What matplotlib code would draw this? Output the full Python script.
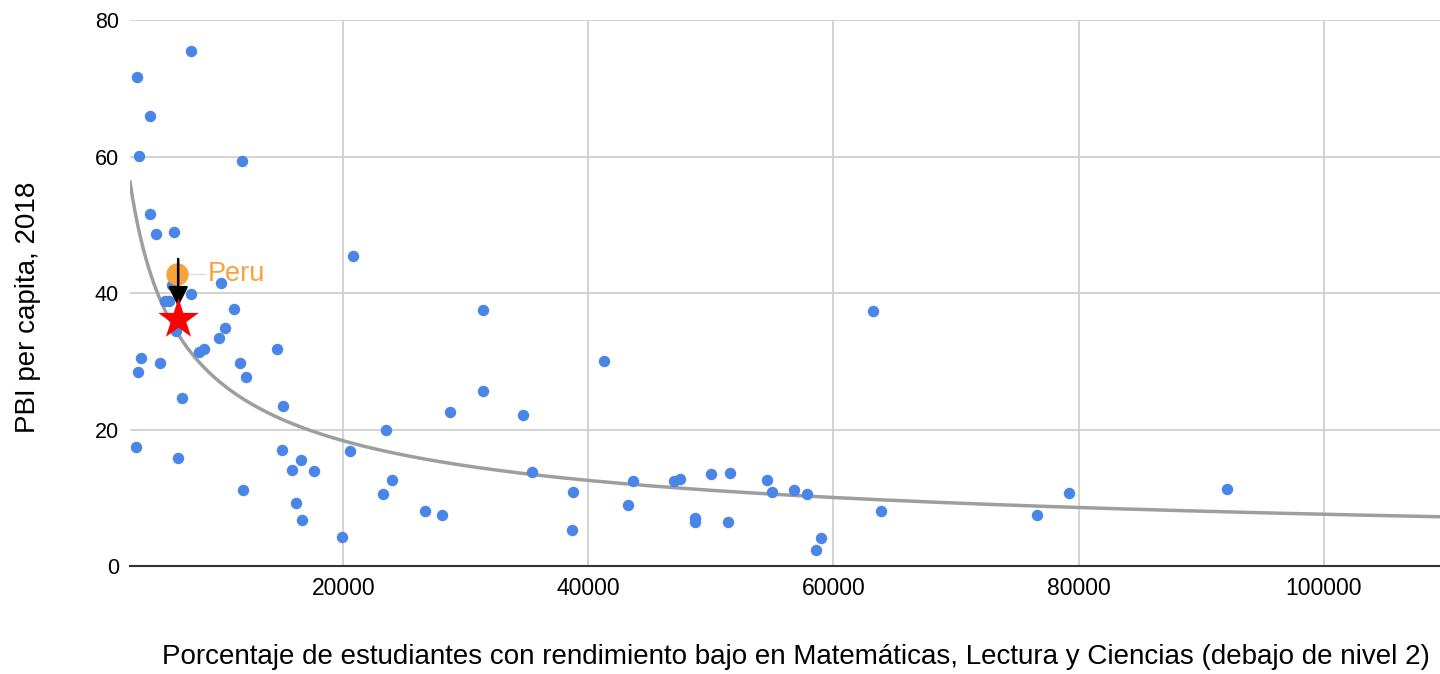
import numpy as np
import matplotlib
matplotlib.use("Agg")
import matplotlib.pyplot as plt

# countries: students below level 2 (x) vs PBI per capita (y)
x_vals = [7567, 3159, 4220, 3322, 11698, 4220, 4710, 6179, 6008, 10008,
          7567, 20760, 5416, 5796, 11102, 6343, 10367, 9877, 8188, 8653,
          14580, 3455, 3241, 5007, 11535, 12057, 6857, 15047, 3077, 6530,
          14993, 16571, 15837, 17578, 11781, 16163, 16625, 19918, 20541,
          31372, 41250, 31428, 28700, 34692, 23510, 35372, 24000, 23265,
          26640, 28027, 38718, 38637, 43643, 43262, 63206, 47020, 47455,
          50014, 51535, 48733, 48733, 51399, 54580, 54966, 56816, 57877,
          59020, 58612, 63859, 76647, 79213, 92099]
y_vals = [75.4, 71.6, 65.9, 60.1, 59.4, 51.6, 48.6, 49.0, 41.2, 41.4,
          39.9, 45.4, 38.9, 38.8, 37.6, 34.5, 34.9, 33.4, 31.4, 31.8,
          31.8, 30.5, 28.4, 29.7, 29.8, 27.7, 24.6, 23.4, 17.5, 15.9,
          17.0, 15.5, 14.1, 13.9, 11.2, 9.2, 6.7, 4.2, 16.9,
          37.5, 30.0, 25.6, 22.6, 22.1, 19.9, 13.8, 12.6, 10.5,
          8.0, 7.5, 10.9, 5.3, 12.5, 9.0, 37.3, 12.5, 12.7,
          13.5, 13.7, 7.1, 6.4, 6.4, 12.6, 10.8, 11.2, 10.5,
          4.1, 2.3, 8.1, 7.5, 10.7, 11.3]

peru_x, peru_y = 6395, 42.8
star_x, star_y = 6530, 36.2

# power trendline y = a * x^b
trend_a = 57.1 * 2530 ** 0.549
trend_b = -0.549

x_ticks = [20000, 40000, 60000, 80000, 100000]
y_ticks = [0, 20, 40, 60, 80]

plt.rcParams['font.family'] = ['Liberation Sans', 'DejaVu Sans']

fig = plt.figure(figsize=(14.4, 6.74), dpi=100)
ax = fig.add_axes([0.0903, 0.1602, 0.9097, 0.8101])

xmin, xmax = 2600, 109500
ax.set_xlim(xmin, xmax)
ax.set_ylim(0, 80)

ax.scatter(x_vals, y_vals, s=68, color='#4a86e8', zorder=3, linewidths=0)

tx = np.linspace(xmin, xmax, 500)
ax.plot(tx, trend_a * tx ** trend_b, color='#9e9e9e', lw=2.5, zorder=2)

# Peru point and label
ax.scatter([peru_x], [peru_y], s=260, color='#f6a33c', zorder=4, linewidths=0)
ax.plot([peru_x + 900, peru_x + 2300], [peru_y, peru_y], color='#dddddd', lw=1, zorder=2)
ax.text(peru_x + 2550, peru_y, 'Peru', color='#f6a33c', fontsize=19.5,
        va='center', ha='left')

ax.annotate('', xy=(star_x, 37.6), xytext=(star_x, 45.4),
            arrowprops=dict(arrowstyle='-|>', color='black', lw=1.8,
                            mutation_scale=30), zorder=5)
ax.scatter([star_x], [star_y], marker='*', s=950, color='#ff0000', zorder=6,
           linewidths=0)

ax.set_xticks(x_ticks)
ax.set_yticks(y_ticks)
ax.set_xticklabels([str(v) for v in x_ticks])
ax.tick_params(axis='x', length=0, labelsize=16.5, pad=8)
ax.tick_params(axis='y', length=0, labelsize=15.5, pad=8)
ax.grid(True, color='#cccccc', lw=1.2)
ax.set_axisbelow(True)
for s in ['top', 'right', 'left']:
    ax.spines[s].set_visible(False)
ax.spines['bottom'].set_color('#333333')
ax.spines['bottom'].set_linewidth(1.5)

ax.set_ylabel('PBI per capita, 2018', fontsize=20, va='center')
ax.yaxis.set_label_coords(-0.078, 0.473)
ax.set_xlabel('Porcentaje de estudiantes con rendimiento bajo en Matemáticas, Lectura y Ciencias (debajo de nivel 2)',
              fontsize=20, va='center')
ax.xaxis.set_label_coords(0.508, -0.167)

fig.savefig('out.png', dpi=100)
